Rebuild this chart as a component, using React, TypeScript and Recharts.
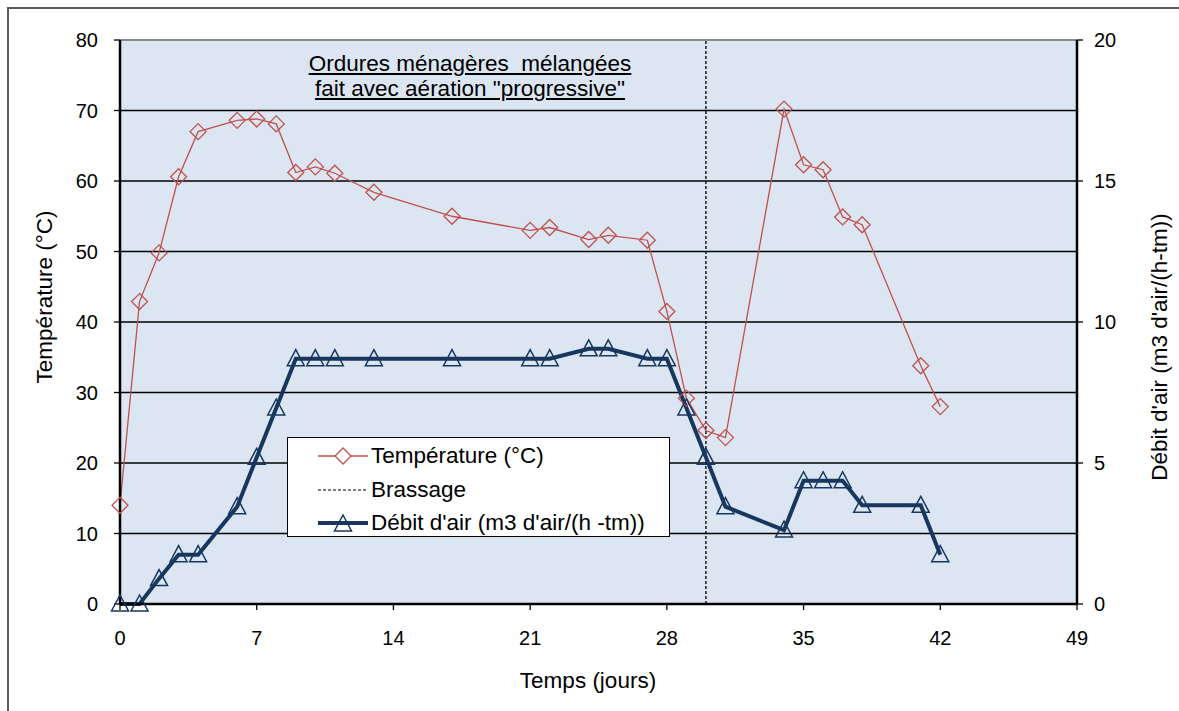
import React from 'react';
import { ComposedChart, Line, XAxis, YAxis, CartesianGrid, ReferenceLine } from 'recharts';

// Temps (jours) des mesures
const days = [0, 1, 2, 3, 4, 6, 7, 8, 9, 10, 11, 13, 17, 21, 22, 24, 25, 27, 28, 29, 30, 31, 34, 35, 36, 37, 38, 41, 42];
// Température (°C)
const temperature = [14, 42.9, 49.8, 60.6, 67, 68.6, 68.8, 68.1, 61.2, 62, 61.1, 58.4, 55, 53, 53.4, 51.7, 52.3, 51.6, 41.5, 29.2, 24.6, 23.6, 70.2, 62.3, 61.6, 54.9, 53.8, 33.8, 28];
// Débit d'air (m3 d'air/(h-tm))
const airflow = [0, 0, 0.9, 1.75, 1.75, 3.45, 5.2, 6.95, 8.7, 8.7, 8.7, 8.7, 8.7, 8.7, 8.7, 9.05, 9.05, 8.7, 8.7, 6.95, 5.2, 3.45, 2.62, 4.37, 4.37, 4.37, 3.5, 3.5, 1.75];
const brassageDay = 30;

const xTicks = [0, 7, 14, 21, 28, 35, 42, 49];
const xMinorTicks = Array.from({ length: 50 }, (_, i) => i);
const leftTicks = [0, 10, 20, 30, 40, 50, 60, 70, 80];
const leftMinorTicks = [5, 15, 25, 35, 45, 55, 65, 75];
const rightTicks = [0, 5, 10, 15, 20];
const rightMinorTicks = Array.from({ length: 21 }, (_, i) => i);

const RED = '#C0504D';
const NAVY = '#17375E';
const FONT = '"Liberation Sans", Arial, sans-serif';
const TEXT_SIZE = 22.5;

const data = days.map((d, i) => ({ day: d, temp: temperature[i], air: airflow[i] }));

const tickStyle = { fill: '#000', fontSize: 20, fontFamily: FONT };

const Diamond = (props: any) => {
    const { cx, cy, index } = props;
    if (cx == null || cy == null) return <g key={`d-${index}`} />;
    return (
        <path
            key={`d-${index}`}
            d={`M${cx},${cy - 8} L${cx + 8},${cy} L${cx},${cy + 8} L${cx - 8},${cy} Z`}
            fill="none"
            stroke={RED}
            strokeWidth={1.3}
        />
    );
};

const Triangle = (props: any) => {
    const { cx, cy, index } = props;
    if (cx == null || cy == null) return <g key={`t-${index}`} />;
    return (
        <path
            key={`t-${index}`}
            d={`M${cx},${cy - 9} L${cx + 8.5},${cy + 7} L${cx - 8.5},${cy + 7} Z`}
            fill="none"
            stroke={NAVY}
            strokeWidth={1.5}
        />
    );
};

const Legend = () => (
    <div style={{
        position: 'absolute', left: 287, top: 437, width: 381, height: 98,
        background: '#fff', border: '1.5px solid #000', fontFamily: FONT, fontSize: TEXT_SIZE,
    }}>
        {[
            { label: 'Température (°C)', kind: 'temp' },
            { label: 'Brassage', kind: 'dash' },
            { label: "Débit d'air (m3 d'air/(h -tm))", kind: 'air' },
        ].map((row, i) => (
            <div key={row.kind} style={{ position: 'absolute', left: 30, top: 4 + i * 33.5, height: 28, display: 'flex', alignItems: 'center', whiteSpace: 'pre' }}>
                <svg width={50} height={24} style={{ marginRight: 3 }}>
                    {row.kind === 'temp' && (
                        <>
                            <line x1={0} y1={12} x2={50} y2={12} stroke={RED} strokeWidth={1.3} />
                            <path d="M25,4 L33,12 L25,20 L17,12 Z" fill="#fff" stroke={RED} strokeWidth={1.3} />
                        </>
                    )}
                    {row.kind === 'dash' && (
                        <line x1={0} y1={12} x2={50} y2={12} stroke="#000" strokeWidth={1.2} strokeDasharray="3 2" />
                    )}
                    {row.kind === 'air' && (
                        <>
                            <line x1={0} y1={12} x2={50} y2={12} stroke={NAVY} strokeWidth={4} />
                            <path d="M25,4 L33.5,20 L16.5,20 Z" fill="none" stroke={NAVY} strokeWidth={1.5} />
                        </>
                    )}
                </svg>
                <span>{row.label}</span>
            </div>
        ))}
    </div>
);

export default function App() {
    return (
        <div style={{ position: 'absolute', left: 0, top: 0, width: 1179, height: 711, background: '#fff', overflow: 'hidden' }}>
            <div style={{ position: 'absolute', left: 7, top: 7, width: 1200, height: 800, borderLeft: '2px solid #5a5a5a', borderTop: '2px solid #5a5a5a' }} />
            <ComposedChart
                width={1179}
                height={711}
                data={data}
                margin={{ top: 40, right: 52, left: 70, bottom: 57 }}
                style={{ position: 'absolute', left: 0, top: 0 }}
            >
                <CartesianGrid yAxisId="left" vertical={false} stroke="#000" strokeWidth={1.3} fill="#DCE6F2" fillOpacity={1} />
                <XAxis
                    xAxisId="minor" dataKey="day" type="number" domain={[0, 49]} ticks={xMinorTicks}
                    mirror height={0} tick={false} axisLine={false} tickSize={6}
                    tickLine={{ stroke: '#000', strokeWidth: 1.3 }}
                />
                <XAxis
                    dataKey="day" type="number" domain={[0, 49]} ticks={xTicks} height={50}
                    tick={tickStyle} tickSize={6} tickMargin={21}
                    axisLine={{ stroke: '#000', strokeWidth: 2.5 }} tickLine={{ stroke: '#000', strokeWidth: 1.3 }}
                />
                <YAxis
                    yAxisId="left" domain={[0, 80]} ticks={leftTicks} width={50}
                    tick={tickStyle} tickSize={6} tickMargin={16}
                    axisLine={{ stroke: '#000', strokeWidth: 2.5 }} tickLine={{ stroke: '#000', strokeWidth: 1.3 }}
                />
                <YAxis
                    yAxisId="leftMinor" domain={[0, 80]} ticks={leftMinorTicks} mirror width={0}
                    tick={false} axisLine={false} tickSize={-6}
                    tickLine={{ stroke: '#000', strokeWidth: 1.3 }}
                />
                <YAxis
                    yAxisId="right" orientation="right" domain={[0, 20]} ticks={rightTicks} width={50}
                    tick={tickStyle} tickSize={6} tickMargin={11}
                    axisLine={{ stroke: '#000', strokeWidth: 2.5 }} tickLine={{ stroke: '#000', strokeWidth: 1.3 }}
                />
                <YAxis
                    yAxisId="rightMinor" orientation="right" domain={[0, 20]} ticks={rightMinorTicks} mirror width={0}
                    tick={false} axisLine={false} tickSize={6}
                    tickLine={{ stroke: '#000', strokeWidth: 1.3 }}
                />
                <ReferenceLine yAxisId="left" y={80} stroke="#8c8c8c" strokeWidth={2} />
                <ReferenceLine yAxisId="left" x={brassageDay} stroke="#000" strokeWidth={1.3} strokeDasharray="3 2" />
                <Line
                    yAxisId="left" dataKey="temp" type="linear" stroke={RED} strokeWidth={1.3}
                    dot={Diamond} activeDot={false} isAnimationActive={false}
                />
                <Line
                    yAxisId="right" dataKey="air" type="linear" stroke={NAVY} strokeWidth={4}
                    dot={Triangle} activeDot={false} isAnimationActive={false}
                />
            </ComposedChart>

            <div style={{
                position: 'absolute', left: 470, top: 51, transform: 'translateX(-50%)', textAlign: 'center',
                fontFamily: FONT, fontSize: TEXT_SIZE, lineHeight: '25px', textDecoration: 'underline', whiteSpace: 'pre', color: '#000',
            }}>
                {'Ordures ménagères  mélangées\nfait avec aération "progressive"'}
            </div>

            <Legend />

            <div style={{
                position: 'absolute', left: 45, top: 297, transform: 'translate(-50%, -50%) rotate(-90deg)',
                fontFamily: FONT, fontSize: TEXT_SIZE, whiteSpace: 'nowrap', color: '#000',
            }}>
                Température (°C)
            </div>
            <div style={{
                position: 'absolute', left: 1160, top: 347, transform: 'translate(-50%, -50%) rotate(-90deg)',
                fontFamily: FONT, fontSize: TEXT_SIZE, whiteSpace: 'nowrap', color: '#000',
            }}>
                Débit d'air (m3 d'air/(h-tm))
            </div>
            <div style={{
                position: 'absolute', left: 588, top: 681, transform: 'translate(-50%, -50%)',
                fontFamily: FONT, fontSize: TEXT_SIZE, whiteSpace: 'nowrap', color: '#000',
            }}>
                Temps (jours)
            </div>
        </div>
    );
}
